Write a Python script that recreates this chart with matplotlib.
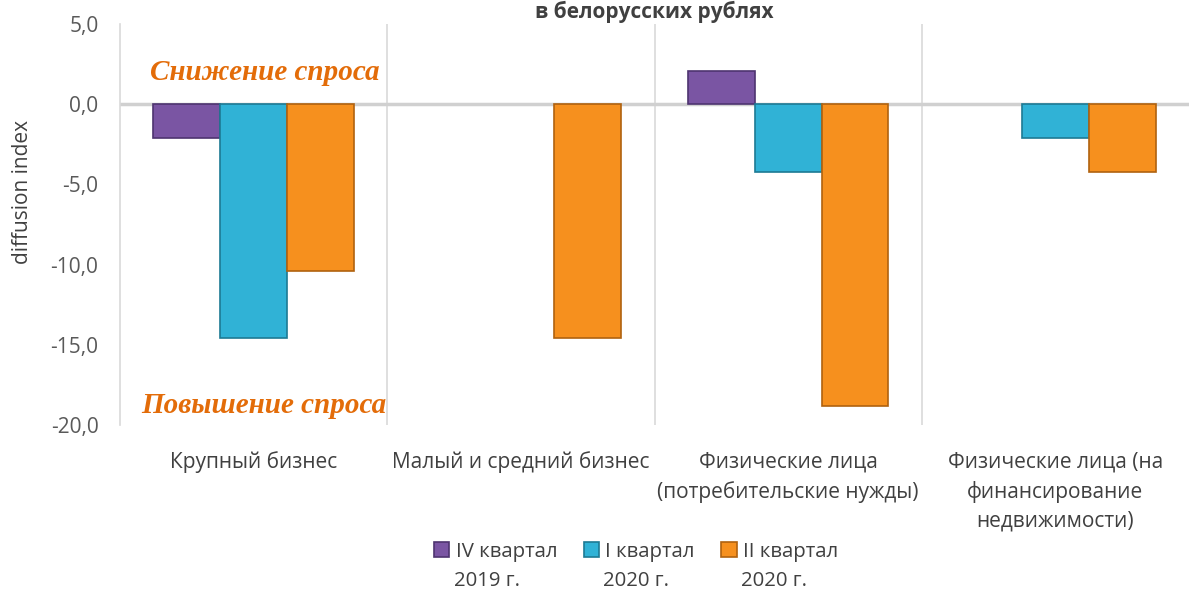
import matplotlib
matplotlib.use("Agg")
import matplotlib.pyplot as plt
import numpy as np
from matplotlib.ticker import FuncFormatter

categories = ["Крупный бизнес", "Малый и средний бизнес",
              "Физические лица\n(потребительские нужды)",
              "Физические лица (на\nфинансирование\nнедвижимости)"]
series_first = ["IV квартал", "I квартал", "II квартал"]
series_second = ["2019 г.", "2020 г.", "2020 г."]
q4_2019 = [-2.1, 0.0, 2.1, 0.0]
q1_2020 = [-14.6, 0.0, -4.2, -2.1]
q2_2020 = [-10.4, -14.6, -18.8, -4.2]
colors = ["#7A55A3", "#30B2D6", "#F6901E"]
edges = ["#4E3470", "#1D7A94", "#B0620F"]

plt.rcParams['font.family'] = ['Open Sans', 'DejaVu Sans']

W, H = 1189, 591
fig = plt.figure(figsize=(W/100, H/100), dpi=100)
ax = fig.add_axes([120/W, 1-425/H, 1-120/W, (425-24)/H])

x = np.arange(len(categories))
w = 0.25
for i, vals in enumerate([q4_2019, q1_2020, q2_2020]):
    bars = ax.bar(x + (i-1)*w, vals, width=w, color=colors[i], edgecolor=edges[i],
                  linewidth=1.2, label=series_first[i], zorder=3)
    for b, v in zip(bars, vals):
        if v == 0:
            b.set_linewidth(0)

ax.set_xlim(-0.5, 3.5)
ax.set_ylim(-20, 5)
ax.set_yticks(np.arange(-20, 5.1, 5))
ax.yaxis.set_major_formatter(FuncFormatter(lambda v, p: f"{v:.1f}".replace(".", ",")))
ax.set_xticks(x)
ax.set_xticklabels(categories, fontsize=15, color="#404040", linespacing=1.5)
ax.tick_params(axis='y', labelsize=15, colors="#595959", length=0, pad=15.5)
ax.tick_params(axis='x', length=0, pad=19)
for s in ["top", "right", "bottom"]:
    ax.spines[s].set_visible(False)
ax.spines["left"].set_color("#D9D9D9")
ax.spines["left"].set_linewidth(1.2)
for xv in [0.5, 1.5, 2.5]:
    ax.axvline(xv, color="#D9D9D9", linewidth=1.2, zorder=1)
ax.axhline(0, color="#D0D0D0", linewidth=2.5, zorder=2)

ax.set_ylabel("diffusion index", fontsize=15, color="#404040")
ax.yaxis.set_label_coords((33-120)/1069, (425-192)/401)

ax.text(0.04, 2.0, "Снижение спроса", fontsize=21, color="#E36C09",
        family="Liberation Serif", style="italic", weight="bold",
        ha="center", va="center")
ax.text(0.04, -18.8, "Повышение спроса", fontsize=21, color="#E36C09",
        family="Liberation Serif", style="italic", weight="bold",
        ha="center", va="center")

fig.text(654/W, 0.999, "в белорусских рублях", fontsize=15, weight="bold",
         color="#404040", ha="center", va="top")

leg = fig.legend(loc="center", bbox_to_anchor=(636/W, 1-552/H), ncol=3, frameon=False,
                 fontsize=14.7, handlelength=0.75, handleheight=0.75,
                 handletextpad=0.3, columnspacing=1.3)
for t in leg.get_texts():
    t.set_color("#404040")

fig.canvas.draw()
for t, s in zip(leg.get_texts(), series_second):
    bb = t.get_window_extent()
    fig.text((bb.x0 - 2)/W, (bb.y0 - 29)/H, s, fontsize=14.7,
             color="#404040", ha="left", va="bottom")

fig.savefig("out.png", dpi=100)
